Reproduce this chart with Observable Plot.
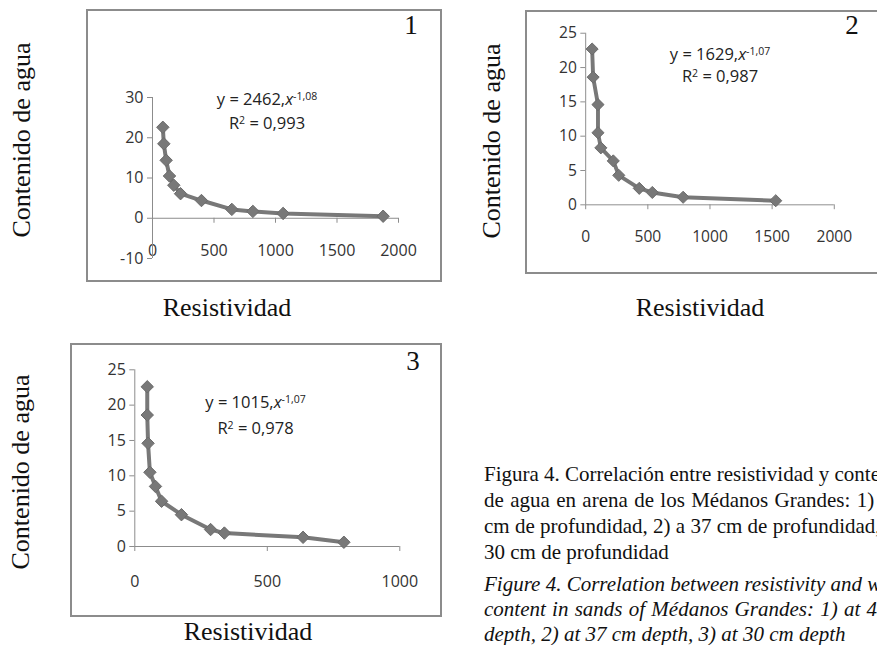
<!DOCTYPE html>
<html><head><meta charset="utf-8">
<script src="https://cdn.jsdelivr.net/npm/d3@7"></script>
<script src="https://cdn.jsdelivr.net/npm/@observablehq/plot@0.6"></script>
<style>
html,body{margin:0;padding:0;background:#fff;}
body{width:877px;height:645px;position:relative;overflow:hidden;}
.box{position:absolute;border:2px solid #8c8c8c;box-sizing:border-box;pointer-events:none;}
.plot{position:absolute;}
.serif{font-family:"Liberation Serif","Times New Roman",serif;color:#111;}
.ytitle{position:absolute;font-size:26px;white-space:nowrap;transform:translate(-50%,-50%) rotate(-90deg);}
.xtitle{position:absolute;font-size:26px;white-space:nowrap;transform:translate(-50%,-50%);}
.num{position:absolute;font-size:27px;line-height:1;transform:translate(-50%,-50%);}
.eq{position:absolute;font-family:"Open Sans",sans-serif;font-size:16.5px;line-height:18px;color:#222;white-space:nowrap;transform:translate(-50%,-50%);}
.eq sup{font-size:10.5px;vertical-align:5px;line-height:0;}
.cap{position:absolute;left:484px;font-size:21px;white-space:nowrap;}
.cap div{white-space:nowrap;}
</style></head><body>
<script>
// ---- data ----
const p1Resist = [84, 92, 111, 138, 173, 228, 398, 645, 816, 1062, 1875];
const p1Water  = [22.6, 18.5, 14.4, 10.5, 8.2, 6.1, 4.4, 2.2, 1.7, 1.2, 0.5];
const p2Resist = [52, 60, 99, 99, 122, 222, 266, 431, 536, 784, 1529];
const p2Water  = [22.7, 18.6, 14.6, 10.5, 8.3, 6.4, 4.3, 2.4, 1.8, 1.1, 0.6];
const p3Resist = [47, 47, 50, 57, 78, 101, 176, 286, 338, 635, 789];
const p3Water  = [22.6, 18.6, 14.6, 10.5, 8.5, 6.4, 4.5, 2.4, 1.9, 1.3, 0.6];

const p1XTicks = [0, 500, 1000, 1500, 2000];
const p1YTicks = [-10, 0, 10, 20, 30];
const p2XTicks = [0, 500, 1000, 1500, 2000];
const p2YTicks = [0, 5, 10, 15, 20, 25];
const p3XTicks = [0, 500, 1000];
const p3YTicks = [0, 5, 10, 15, 20, 25];

const panelNumbers = ["1", "2", "3"];
const equations = ["2462", "1629", "1015"];
const exponents = ["-1,08", "-1,07", "-1,07"];
const r2Values = ["0,993", "0,987", "0,978"];
const yTitle = "Contenido de agua";
const xTitle = "Resistividad";
const captionEs = [
  "Figura 4. Correlación entre resistividad y contenido",
  "de agua en arena de los Médanos Grandes: 1)",
  "cm de profundidad, 2) a 37 cm de profundidad,",
  "30 cm de profundidad"
];
const captionEn = [
  "Figure 4. Correlation between resistivity and water",
  "content in sands of Médanos Grandes: 1) at 4",
  "depth, 2) at 37 cm depth, 3) at 30 cm depth"
];
// extra word spacing per line (the caption is a justified column)
const captionEsSpacing = [0, 1.1, 0, 0];
const captionEnSpacing = [0, 1, 0];

// ---- layout ----
const layouts = [
  {box:[87,10,441,281], svg:{left:87, top:10, width:354, height:271, ml:65, mr:43, mt:87, mb:23}, xLabelY:250,
   yTitle:[22,140], xTitle:[227,308], num:[411,25], eq:[267,99,123]},
  {box:[526,11,900,273], svg:{left:526, top:11, width:360, height:262, ml:60.7, mr:44.3, mt:22.3, mb:63.7}, xLabelY:241.7,
   yTitle:[492,141], xTitle:[700,308], num:[852,25], eq:[720,53.5,75.5]},
  {box:[71,344,441,616], svg:{left:71, top:344, width:370, height:272, ml:63.3, mr:41.7, mt:25.3, mb:70}, xLabelY:580.7,
   yTitle:[21,472], xTitle:[248,632], num:[413,361], eq:[255.5,401.7,428.3]}
];
const series = [[p1Resist,p1Water],[p2Resist,p2Water],[p3Resist,p3Water]];
const xTickSets = [p1XTicks, p2XTicks, p3XTicks];
const yTickSets = [p1YTicks, p2YTicks, p3YTicks];

const axisColor = "#8c8c8c";
const seriesColor = "#787878";
const labelColor = "#333";

function add(html, cls, x, y) {
  const d = document.createElement("div");
  d.className = cls;
  d.innerHTML = html;
  d.style.left = x + "px";
  d.style.top = y + "px";
  document.body.appendChild(d);
  return d;
}

layouts.forEach((L, i) => {
  const [xs, ys] = series[i];
  const data = xs.map((x, j) => ({resist: x, water: ys[j]}));
  const xT = xTickSets[i], yT = yTickSets[i];
  const s = L.svg;
  const innerH = s.height - s.mt - s.mb;
  const yMin = yT[0], yMax = yT[yT.length - 1];
  const zeroUp = innerH * (0 - yMin) / (yMax - yMin);
  const labelPad = (L.xLabelY - s.top) - (s.height - s.mb) - 5.7;
  const fmt = d => String(d);

  const chart = Plot.plot({
    width: s.width, height: s.height,
    marginLeft: s.ml, marginRight: s.mr, marginTop: s.mt, marginBottom: s.mb,
    style: {fontFamily: "'Open Sans', sans-serif", fontSize: "16px", color: labelColor, background: "transparent", overflow: "visible"},
    x: {domain: [xT[0], xT[xT.length - 1]], label: null},
    y: {domain: [yMin, yMax], label: null},
    marks: [
      Plot.axisY({ticks: yT, tickSize: 5, tickPadding: 4, tickFormat: fmt, label: null, stroke: axisColor, fill: labelColor, fontSize: 16}),
      Plot.axisX({ticks: xT, tickSize: 5, label: null, stroke: axisColor, fill: "none", dy: -zeroUp}),
      Plot.axisX({ticks: xT, tickSize: 0, tickPadding: labelPad, tickFormat: fmt, label: null, fill: labelColor, fontSize: 16}),
      Plot.ruleX([0], {stroke: axisColor, strokeWidth: 1}),
      Plot.ruleY([0], {stroke: axisColor, strokeWidth: 1}),
      Plot.line(data, {x: "resist", y: "water", stroke: seriesColor, strokeWidth: 4, strokeLinejoin: "round"}),
      Plot.dot(data, {x: "resist", y: "water", symbol: "diamond2", r: 5.6, fill: seriesColor, stroke: "#6a6a6a", strokeWidth: 1})
    ]
  });
  const wrap = document.createElement("div");
  wrap.className = "plot";
  wrap.style.left = s.left + "px";
  wrap.style.top = s.top + "px";
  wrap.appendChild(chart);
  document.body.appendChild(wrap);

  const [bl, bt, br, bb] = L.box;
  const box = document.createElement("div");
  box.className = "box";
  box.style.left = (bl - 1) + "px";
  box.style.top = (bt - 1) + "px";
  box.style.width = (br - bl + 2) + "px";
  box.style.height = (bb - bt + 2) + "px";
  document.body.appendChild(box);

  add(yTitle, "serif ytitle", L.yTitle[0], L.yTitle[1]);
  add(xTitle, "serif xtitle", L.xTitle[0], L.xTitle[1]);
  add(panelNumbers[i], "serif num", L.num[0], L.num[1]);
  add(`y = ${equations[i]},<i>x</i><sup>${exponents[i]}</sup>`, "eq", L.eq[0], L.eq[1]);
  add(`R<sup>2</sup> = ${r2Values[i]}`, "eq", L.eq[0], L.eq[2]);
});

const es = add(captionEs.map((t, k) => `<div style="word-spacing:${captionEsSpacing[k]}px">${t}</div>`).join(""), "serif cap", 484, 460.5);
es.style.lineHeight = "26px";
const en = add(captionEn.map((t, k) => `<div style="word-spacing:${captionEnSpacing[k]}px">${t}</div>`).join(""), "serif cap", 484, 572);
en.style.lineHeight = "25px";
en.style.fontStyle = "italic";
</script>
</body></html>
